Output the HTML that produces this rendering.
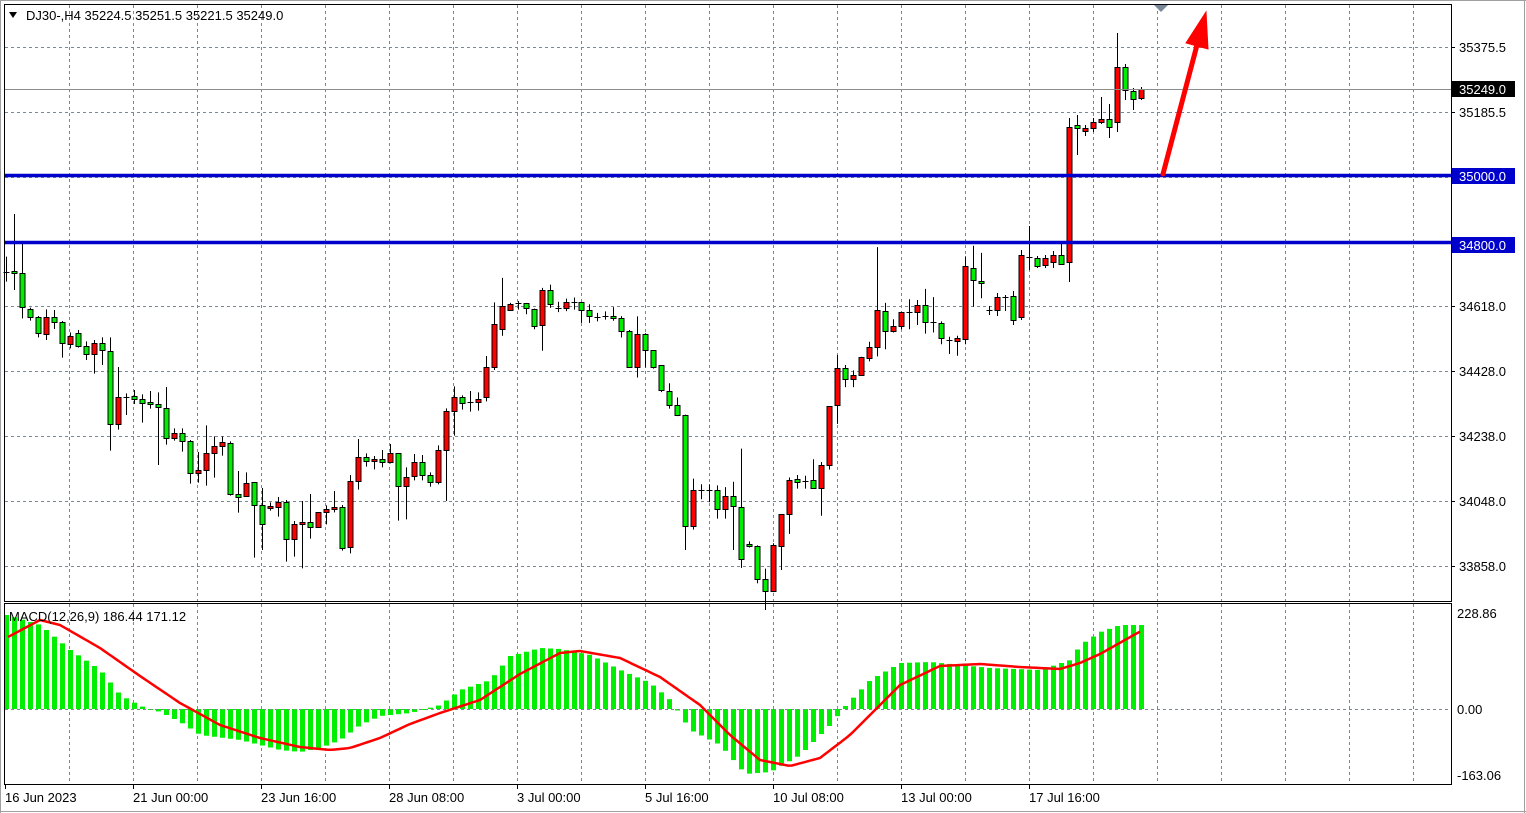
<!DOCTYPE html>
<html><head><meta charset="utf-8">
<style>
html,body{margin:0;padding:0;background:#fff;}
svg{display:block;font-family:"Liberation Sans",sans-serif;}
</style></head>
<body>
<svg id="c" width="1526" height="813" xmlns="http://www.w3.org/2000/svg">
<rect x="0" y="0" width="1526" height="813" fill="#fff"/>
<g id="grid"></g>
<g id="macd"></g>
<g id="candles"></g>
<g id="over"></g>
<rect x="4.5" y="4.5" width="1447" height="597" fill="none" stroke="#000" stroke-width="1"/>
<rect x="4.5" y="603.5" width="1447" height="181" fill="none" stroke="#000" stroke-width="1"/>
<line x1="0" y1="0.5" x2="1526" y2="0.5" stroke="#a0a0a0"/>
<line x1="0.5" y1="0" x2="0.5" y2="813" stroke="#a0a0a0"/>
<line x1="1524.5" y1="0" x2="1524.5" y2="813" stroke="#a0a0a0"/>
<line x1="0" y1="811.5" x2="1526" y2="811.5" stroke="#a0a0a0"/>
<path d="M9 12 L17 12 L13 18 Z" fill="#000"/>
<text x="26" y="20" font-size="13" fill="#000">DJ30-,H4  35224.5 35251.5 35221.5 35249.0</text>
<text x="9" y="621" font-size="13" fill="#000">MACD(12,26,9) 186.44 171.12</text>
<path d="M1154 5 L1168 5 L1161 12 Z" fill="#778899"/>
</svg>
<script>
var NS="http://www.w3.org/2000/svg";
function el(p,t,a,txt){var e=document.createElementNS(NS,t);for(var k in a)e.setAttribute(k,a[k]);if(txt!==undefined)e.textContent=txt;document.getElementById(p).appendChild(e);return e;}
for(var x=69;x<1451;x+=64){el("grid","line",{x1:x+.5,y1:5,x2:x+.5,y2:601,stroke:"#7a8797","stroke-dasharray":"3,3"});el("grid","line",{x1:x+.5,y1:604,x2:x+.5,y2:784,stroke:"#7a8797","stroke-dasharray":"3,3"});}
var hy=[47,112,177,242,306,371,436,501,566];
hy.forEach(function(y){el("grid","line",{x1:5,y1:y+.5,x2:1451,y2:y+.5,stroke:"#7a8797","stroke-dasharray":"3,3"});});
var labs=[[47,"35375.5"],[112,"35185.5"],[306,"34618.0"],[371,"34428.0"],[436,"34238.0"],[501,"34048.0"],[566,"33858.0"]];
labs.forEach(function(l){el("grid","line",{x1:1451,y1:l[0]+.5,x2:1455,y2:l[0]+.5,stroke:"#000"});el("grid","text",{x:1459,y:l[0]+5,"font-size":"13",fill:"#000"},l[1]);});
[[613,"228.86"],[709,"0.00"],[775,"-163.06"]].forEach(function(l){el("grid","text",{x:1457,y:l[0]+5,"font-size":"13",fill:"#000"},l[1]);});
var dates=[[5,"16 Jun 2023"],[133,"21 Jun 00:00"],[261,"23 Jun 16:00"],[389,"28 Jun 08:00"],[517,"3 Jul 00:00"],[645,"5 Jul 16:00"],[773,"10 Jul 08:00"],[901,"13 Jul 00:00"],[1029,"17 Jul 16:00"]];
dates.forEach(function(d){el("grid","line",{x1:d[0]+.5,y1:785,x2:d[0]+.5,y2:789,stroke:"#000"});el("grid","text",{x:d[0],y:802,"font-size":"13",fill:"#000"},d[1]);});
var A=[[216,219,'r',170,245],[214,220,'g',42,270],[220,322,'g',130,355],[327,350,'g',323,362],[352,400,'g',348,412],[350,403,'r',328,420],[350,367,'g',330,387],[367,430,'g',363,473],[409,433,'r',397,445],[398,437,'g',390,443],[439,463,'g',424,480],[428,463,'r',420,521],[428,451,'g',412,495],[452,673,'g',412,752],[592,673,'r',501,689],[590,590,'d',580,645],[587,598,'g',570,612],[598,610,'g',583,668],[607,613,'g',573,626],[613,622,'g',577,795],[625,715,'g',561,734],[700,715,'r',685,722],[700,724,'g',685,755],[724,820,'g',720,851],[811,820,'r',756,848],[760,811,'r',676,857],[739,760,'r',709,833],[727,739,'r',709,767],[730,883,'g',724,887],[883,892,'g',813,938],[850,888,'r',817,889],[847,915,'g',847,1073],[916,972,'g',864,1050],[919,925,'r',907,932],[907,922,'r',891,950],[907,1018,'g',900,1085],[972,1018,'r',963,1070],[966,972,'r',903,1105],[967,982,'g',882,1016],[937,982,'r',937,982],[928,937,'r',916,973],[921,928,'r',873,937],[921,1045,'g',915,1052],[844,1042,'r',825,1060],[772,844,'r',717,869],[772,783,'g',760,800],[778,784,'r',768,808],[778,787,'g',750,802],[760,787,'r',732,790],[760,858,'g',760,962],[832,858,'r',802,958],[787,828,'r',762,841],[787,826,'g',765,841],[826,846,'g',817,860],[751,846,'r',736,853],[634,751,'r',625,903],[590,634,'r',559,707],[592,610,'g',586,629],[607,607,'d',573,635],[596,607,'r',577,632],[502,592,'r',468,604],[373,502,'r',307,510]];
var B=[[130,193,'r',50,212],[124,139,'r',120,139],[121,121,'d',115,139],[121,133,'g',121,152],[136,184,'g',136,194],[85,181,'r',78,254],[85,124,'g',69,134],[133,133,'d',117,146],[118,133,'r',108,143],[118,118,'d',105,139],[118,139,'g',118,176],[139,157,'g',124,176],[160,160,'d',148,172],[157,157,'d',144,167],[157,163,'g',132,170],[163,199,'g',157,217],[199,299,'g',196,302],[208,299,'r',158,329],[208,253,'g',205,301],[253,299,'g',253,304],[295,364,'g',295,370],[367,406,'g',345,416],[406,433,'g',385,437],[433,745,'g',433,812],[643,745,'r',612,755],[644,644,'d',628,670],[644,644,'d',628,678],[643,697,'g',631,724],[661,697,'r',636,724],[661,690,'g',621,812],[691,838,'g',528,862],[796,802,'g',788,805],[802,892,'g',799,905],[892,928,'g',864,980],[799,928,'r',793,930],[712,802,'r',712,868],[615,712,'r',609,767],[612,622,'g',602,640],[618,618,'d',604,640],[616,637,'g',558,641],[574,637,'r',566,716],[409,574,'r',409,587],[301,407,'r',266,459],[303,334,'g',294,356],[322,334,'r',309,356],[271,322,'r',271,322],[244,274,'r',229,284],[139,244,'r',-36,270],[142,199,'g',120,250],[184,199,'r',166,203],[145,184,'r',145,194],[146,146,'d',110,194],[127,145,'r',112,182],[127,173,'g',81,206],[173,173,'d',104,203],[175,217,'g',172,236],[224,224,'d',215,263],[219,226,'r',212,268],[18,220,'r',-10,236],[21,55,'g',-40,131],[58,64,'g',-20,107]];
var C=[[310,310,'d',306,315],[297,310,'r',293,316],[297,297,'d',295,311],[296,320,'g',291,325],[255,317,'r',250,320],[257,257,'d',226,270],[258,266,'g',256,268],[258,265,'r',255,268],[255,262,'r',251,268],[255,264,'g',243,265],[127,262,'r',118,282],[125,128,'g',115,155],[128,131,'r',125,136],[122,128,'r',118,132],[119,122,'r',97,124],[119,127,'g',104,138],[67,122,'r',33,132],[67,90,'g',64,100],[91,99,'g',88,110],[89,98,'r',87,100]];
var cs=[];
A.forEach(function(c){cs.push([200+c[0]/3,200+c[1]/3,c[2],200+c[3]/3,200+c[4]/3]);});
B.forEach(function(c){cs.push([260+c[0]/2.8,260+c[1]/2.8,c[2],260+c[3]/2.8,260+c[4]/2.8]);});
C.forEach(function(c){cs.push(c);});
var n=cs.length; var step=(1141-6)/(n-1);
cs.forEach(function(c,i){
  var x=Math.round(6+step*i)+.5;
  el("candles","line",{x1:x,y1:c[3],x2:x,y2:c[4],stroke:"#000","stroke-width":1});
  var t=Math.round(c[0]),b=Math.round(c[1]);
  if(c[2]=='d'||b-t<2){el("candles","line",{x1:x-3,y1:t+.5,x2:x+3,y2:t+.5,stroke:"#000"});}
  else el("candles","rect",{x:x-2.5,y:t+.5,width:5,height:b-t,fill:c[2]=='r'?"#ff0000":"#00ee00",stroke:"#000","stroke-width":1});
});
function interp(pts,x){for(var i=0;i<pts.length-1;i++){if(x<=pts[i+1][0]){var a=pts[i],b=pts[i+1];return a[1]+(b[1]-a[1])*(x-a[0])/(b[0]-a[0]);}}return pts[pts.length-1][1];}
var H=[[6,615],[40,625],[70,650],[100,670],[120,695],[140,706],[160,712],[180,722],[200,735],[240,740],[280,750],[300,752],[320,748],[340,740],[360,725],[380,716],[410,713],[440,705],[460,690],[490,680],[510,656],[540,648],[560,649],[590,655],[620,670],[650,683],[670,700],[690,730],[720,745],[745,774],[770,772],[800,755],[830,725],[845,706],[870,680],[900,663],[930,662],[960,665],[990,668],[1040,670],[1070,660],[1080,645],[1100,632],[1120,625],[1141,625]];
for(var i=0;i<n;i++){var x=Math.round(6+step*i);var y=interp(H,x);var y0=709;
 el("macd","rect",{x:x-2,y:Math.min(y,y0),width:5,height:Math.max(1,Math.abs(y-y0)),fill:"#00ee00"});}
el("macd","line",{x1:5,y1:709.5,x2:1451,y2:709.5,stroke:"#7a8797","stroke-dasharray":"3,3"});
var S=[[8,637],[40,620],[60,625],[100,648],[140,676],[180,703],[220,725],[260,738],[300,747],[330,750],[350,748],[380,738],[410,724],[440,713],[480,700],[520,674],[560,653],[580,651],[620,658],[660,677],[700,705],[730,735],[760,760],[790,766],[820,758],[850,735],[900,685],[940,666],[980,664],[1020,667],[1060,669],[1080,663],[1100,654],[1141,631]];
var d="";for(var x=8;x<=1141;x+=4){d+=(x==8?"M":"L")+x+" "+interp(S,x).toFixed(1)+" ";}
el("macd","path",{d:d,fill:"none",stroke:"#ff0000","stroke-width":2.5});
el("over","line",{x1:5,y1:89.5,x2:1451,y2:89.5,stroke:"#8c8c8c"});
el("over","line",{x1:5,y1:175.5,x2:1451,y2:175.5,stroke:"#0000cc","stroke-width":3.5});
el("over","line",{x1:5,y1:242.5,x2:1451,y2:242.5,stroke:"#0000cc","stroke-width":3.5});
el("over","rect",{x:1452,y:81,width:63,height:16,fill:"#000"});
el("over","text",{x:1459,y:94,"font-size":"13",fill:"#fff"},"35249.0");
el("over","rect",{x:1452,y:168,width:63,height:16,fill:"#0000cc"});
el("over","text",{x:1459,y:181,"font-size":"13",fill:"#fff"},"35000.0");
el("over","rect",{x:1452,y:237,width:63,height:16,fill:"#0000cc"});
el("over","text",{x:1459,y:250,"font-size":"13",fill:"#fff"},"34800.0");
el("over","line",{x1:1163,y1:174,x2:1197,y2:45,stroke:"#ff0000","stroke-width":5,"stroke-linecap":"round"});
el("over","path",{d:"M1186 43 L1206 12 L1208 49 Z",fill:"#ff0000",stroke:"#ff0000","stroke-width":1});
</script>
</body></html>
